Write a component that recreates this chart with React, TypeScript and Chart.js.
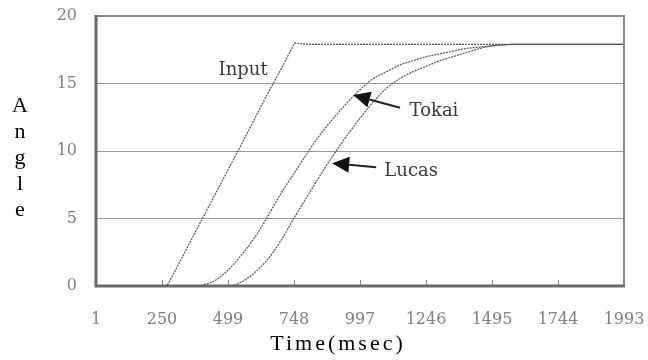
import React, { useEffect, useRef } from "react";
import { Chart, registerables } from "chart.js";

Chart.register(...registerables);

const times = [1, 100, 200, 269, 300, 350, 390, 400, 450, 500, 550, 600, 650, 700, 750, 800, 850, 900, 950, 1000, 1050, 1100, 1150, 1200, 1250, 1300, 1350, 1400, 1450, 1500, 1600, 1700, 1800, 1900, 1993];
const inputValues = [0, 0, 0, 0, 1.16, 3.03, 4.53, 4.9, 6.77, 8.64, 10.5, 12.4, 14.3, 16.1, 18.0, 17.9, 17.9, 17.9, 17.9, 17.9, 17.9, 17.9, 17.9, 17.9, 17.9, 17.9, 17.9, 17.9, 17.9, 17.9, 17.9, 17.9, 17.9, 17.9, 17.9];
const tokaiValues = [0, 0, 0, 0, 0, 0, 0, 0.05, 0.4, 1.2, 2.3, 3.6, 5.2, 6.9, 8.4, 9.9, 11.3, 12.5, 13.6, 14.6, 15.4, 15.9, 16.4, 16.7, 17.0, 17.2, 17.4, 17.6, 17.7, 17.8, 17.9, 17.9, 17.9, 17.9, 17.9];
const lucasValues = [0, 0, 0, 0, 0, 0, 0, 0, 0, 0, 0.3, 1.0, 2.0, 3.4, 5.1, 6.7, 8.3, 9.8, 11.2, 12.5, 13.7, 14.7, 15.4, 15.9, 16.3, 16.7, 17.0, 17.3, 17.6, 17.8, 17.9, 17.9, 17.9, 17.9, 17.9];

const xTicks = [1, 250, 499, 748, 997, 1246, 1495, 1744, 1993];
const yTicks = [0, 5, 10, 15, 20];

const seriesNames = ["Input", "Tokai", "Lucas"];
// label anchors in data units (time, angle)
const labelTimes = [556, 1276, 1190];
const labelAngles = [16.0, 12.96, 8.5];
// arrows: tip and tail in data units (Tokai, Lucas)
const arrowTipTimes = [971, 892];
const arrowTipAngles = [14.15, 9.1];
const arrowTailTimes = [1148, 1058];
const arrowTailAngles = [13.2, 8.8];

const xTitle = "Time(msec)";
const yTitle = "Angle";

const decorPlugin = {
  id: "decor",
  afterDraw(chart: any) {
    const { ctx, chartArea, scales } = chart;
    const xs = scales.x;
    const ys = scales.y;
    const { left, right, top, bottom } = chartArea;
    ctx.save();
    // inward x ticks
    ctx.strokeStyle = "#888";
    ctx.lineWidth = 1;
    xTicks.forEach((v) => {
      const px = Math.round(xs.getPixelForValue(v)) + 0.5;
      ctx.beginPath();
      ctx.moveTo(px, bottom);
      ctx.lineTo(px, bottom - 6);
      ctx.stroke();
    });
    // frame
    ctx.strokeStyle = "#8a8a8a";
    ctx.lineWidth = 2;
    ctx.beginPath();
    ctx.moveTo(left, top);
    ctx.lineTo(right, top);
    ctx.lineTo(right, bottom);
    ctx.stroke();
    ctx.strokeStyle = "#6a6a6a";
    ctx.lineWidth = 3;
    ctx.beginPath();
    ctx.moveTo(left, top - 1);
    ctx.lineTo(left, bottom);
    ctx.lineTo(right + 1, bottom);
    ctx.stroke();

    // series labels
    ctx.fillStyle = "#3a3a3a";
    ctx.font = "18px 'DejaVu Serif'";
    ctx.textAlign = "center";
    ctx.textBaseline = "middle";
    seriesNames.forEach((n, i) => {
      ctx.fillText(n, xs.getPixelForValue(labelTimes[i]), ys.getPixelForValue(labelAngles[i]));
    });

    // arrows
    arrowTipTimes.forEach((t, i) => {
      const tx = xs.getPixelForValue(t);
      const ty = ys.getPixelForValue(arrowTipAngles[i]);
      const ex = xs.getPixelForValue(arrowTailTimes[i]);
      const ey = ys.getPixelForValue(arrowTailAngles[i]);
      const ang = Math.atan2(ey - ty, ex - tx);
      const headLen = 17;
      const headW = 8;
      const bx = tx + Math.cos(ang) * headLen;
      const by = ty + Math.sin(ang) * headLen;
      ctx.strokeStyle = "#222";
      ctx.lineWidth = 2;
      ctx.beginPath();
      ctx.moveTo(bx, by);
      ctx.lineTo(ex, ey);
      ctx.stroke();
      ctx.fillStyle = "#111";
      ctx.beginPath();
      ctx.moveTo(tx, ty);
      ctx.lineTo(bx - Math.sin(ang) * headW, by + Math.cos(ang) * headW);
      ctx.lineTo(bx + Math.sin(ang) * headW, by - Math.cos(ang) * headW);
      ctx.closePath();
      ctx.fill();
    });

    // axis titles
    ctx.fillStyle = "#000";
    ctx.font = "22px 'Liberation Serif'";
    ctx.textAlign = "center";
    ctx.textBaseline = "alphabetic";
    try { (ctx as any).letterSpacing = "3px"; } catch (e) {}
    ctx.fillText(xTitle, 338, 350);
    try { (ctx as any).letterSpacing = "0px"; } catch (e) {}
    const baseY = 112;
    yTitle.split("").forEach((ch, i) => {
      ctx.fillText(ch, 20, baseY + i * 26);
    });
    ctx.restore();
  },
};

export default function App() {
  const ref = useRef<HTMLCanvasElement | null>(null);
  useEffect(() => {
    if (!ref.current) return;
    const mk = (vals: number[]) => times.map((t, i) => ({ x: t, y: vals[i] }));
    const common = {
      borderColor: "#555",
      borderWidth: 1.2,
      borderDash: [2, 1],
      pointRadius: 0,
      cubicInterpolationMode: "monotone",
      fill: false,
    };
    const zeroPad = (s: any) => {
      s.paddingTop = 0;
      s.paddingBottom = 0;
      s.paddingLeft = 0;
      s.paddingRight = 0;
    };
    const chart = new Chart(ref.current, {
      type: "line",
      data: {
        datasets: [
          { label: seriesNames[0], data: mk(inputValues), ...common, cubicInterpolationMode: "default", tension: 0 },
          { label: seriesNames[1], data: mk(tokaiValues), ...common },
          { label: seriesNames[2], data: mk(lucasValues), ...common },
        ],
      },
      options: {
        animation: false,
        responsive: false,
        layout: { padding: { top: 16, right: 24, left: 0, bottom: 0 } },
        plugins: { legend: { display: false }, tooltip: { enabled: false } },
        scales: {
          x: {
            type: "linear",
            min: 1,
            max: 1993,
            afterBuildTicks: (s: any) => {
              s.ticks = xTicks.map((v) => ({ value: v }));
            },
            afterFit: (s: any) => {
              s.height = 74;
              zeroPad(s);
            },
            grid: { display: false },
            border: { display: false },
            ticks: {
              autoSkip: false,
              maxRotation: 0,
              padding: 16,
              color: "#808080",
              font: { family: "'DejaVu Serif'", size: 16 },
              callback: (v: any) => String(v),
            },
          },
          y: {
            min: 0,
            max: 20,
            afterBuildTicks: (s: any) => {
              s.ticks = yTicks.map((v) => ({ value: v }));
            },
            afterFit: (s: any) => {
              s.width = 96;
              zeroPad(s);
            },
            grid: { color: "#9a9a9a", lineWidth: 1, drawTicks: false },
            border: { display: false },
            ticks: {
              padding: 19,
              color: "#808080",
              font: { family: "'DejaVu Serif'", size: 16 },
            },
          },
        },
      },
      plugins: [decorPlugin],
    } as any);
    return () => chart.destroy();
  }, []);
  return (
    <div style={{ position: "absolute", left: 0, top: 0, width: 648, height: 360, background: "#fff" }}>
      <canvas ref={ref} width={648} height={360} />
    </div>
  );
}
